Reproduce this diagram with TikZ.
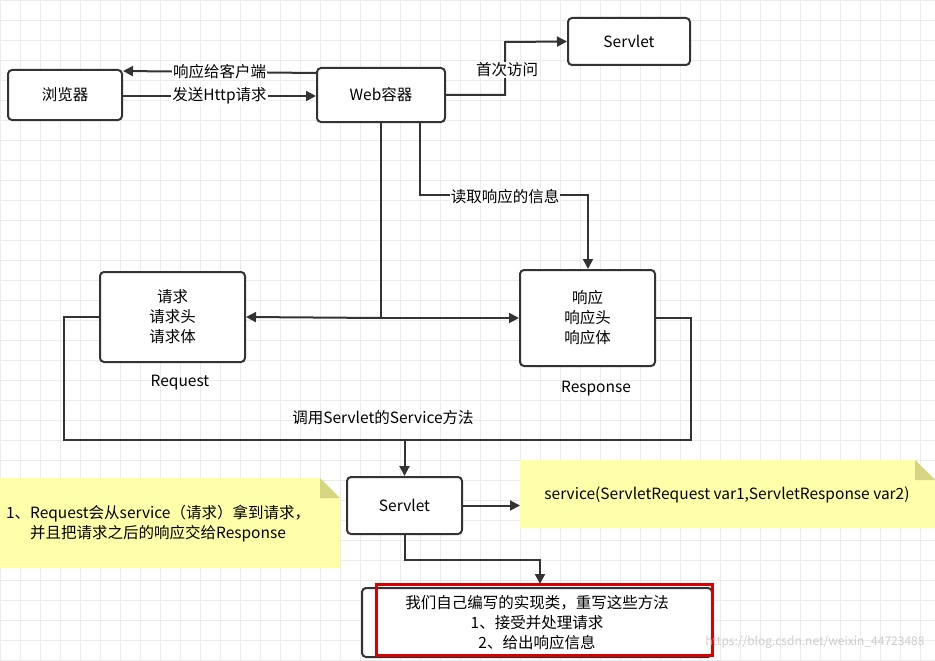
\documentclass[tikz,border=0pt]{standalone}
\usepackage{fontspec}
\setmainfont{Noto Sans CJK SC}
\usetikzlibrary{arrows.meta}
\definecolor{notefill}{RGB}{255,255,170}
\definecolor{noteear}{RGB}{214,214,130}
\tikzset{
  box/.style={draw=black!80, line width=2pt, rounded corners=4pt, fill=white, align=center, font=\fontsize{15.5}{20}\selectfont},
  flow/.style={draw=black!80, line width=2pt, -{Triangle[length=10pt,width=10pt]}},
  line/.style={draw=black!80, line width=2pt},
  lbl/.style={fill=white, inner sep=1pt, font=\fontsize{15.5}{17}\selectfont},
  txt/.style={font=\fontsize{15.5}{17}\selectfont},
  note/.style={fill=notefill, draw=none}
}
\begin{document}
\begin{tikzpicture}[x=1pt,y=-1pt]
\useasboundingbox (0,0) rectangle (935,661);
% grid
\draw[black!8, line width=0.8pt] (0,0) grid[step=20pt] (935,661);

% top row
\node[box, minimum width=114pt, minimum height=50pt] (browser) at (65,95) {浏览器};
\node[box, minimum width=128pt, minimum height=54pt] (web) at (381,95) {Web容器};
\node[box, minimum width=122pt, minimum height=47pt] (servlet1) at (629,41.5) {Servlet};
\draw[flow] (web.west |- 0,73) -- (browser.east |- 0,71) node[lbl, midway] {响应给客户端};
\draw[flow] (browser.east |- 0,96) -- (web.west |- 0,96) node[lbl, midway] {发送Http请求};
\draw[flow] (web.east) -- (505,95) -- (505,42) -- (servlet1.west);
\node[lbl] (first) at (507,70) {首次访问};

% request / response
\node[box, minimum width=145pt, minimum height=90pt] (req) at (172.5,317) {请求\\请求头\\请求体};
\node[txt] (reqlbl) at (180,383) {Request};
\node[box, minimum width=135pt, minimum height=96pt] (resp) at (587.5,318) {响应\\响应头\\响应体};
\node[txt] (resplbl) at (596,389) {Response};
\draw[flow] (web.south -| 420,0) -- (420,195) -- (588,195) -- (resp.north -| 588,0);
\node[lbl] (read) at (505,197) {读取响应的信息};
\draw[line] (web.south) -- (381,318) coordinate (split);
\draw[flow] (split) -- (req.east);
\draw[flow] (split) -- (resp.west);

% call service
\node[box, minimum width=115pt, minimum height=57pt] (servlet2) at (404.5,505.5) {Servlet};
\draw[line] (req.west) -- (64,317) -- (64,440) -- (691,440) -- (691,318) -- (resp.east);
\node[txt] (call) at (383,418) {调用Servlet的Service方法};
\draw[flow] (404.5,440) -- (servlet2.north);

% notes
\fill[note] (520,460) -- (915,460) -- (935,480) -- (935,528) -- (520,528) -- cycle;
\fill[noteear] (915,460) -- (935,480) -- (915,480) -- cycle;
\node[txt] (sig) at (727,495) {service(ServletRequest var1,ServletResponse var2)};
\draw[flow] (servlet2.east) -- (520,505.5);
\fill[note] (0,478) -- (320,478) -- (340,498) -- (340,568) -- (0,568) -- cycle;
\fill[noteear] (320,478) -- (340,498) -- (320,498) -- cycle;
\node[align=center, font=\fontsize{15.5}{20}\selectfont] (leftnote) at (158,524) {1、Request会从service（请求）拿到请求，\\ 并且把请求之后的响应交给Response};

% implementation
\node[box, minimum width=350pt, minimum height=69pt] (impl) at (537,622.5) {我们自己编写的实现类，重写这些方法\\1、接受并处理请求\\2、给出响应信息};
\draw[red!85!black, line width=3pt] (376,584) rectangle (712,655);
\draw[flow] (servlet2.south) -- (404.5,560) -- (540,560) -- (540,584);
\node[black!20, font=\fontsize{12}{14}\selectfont, anchor=east] (wm) at (928,642) {https://blog.csdn.net/weixin\_44723488};
\end{tikzpicture}
\end{document}
